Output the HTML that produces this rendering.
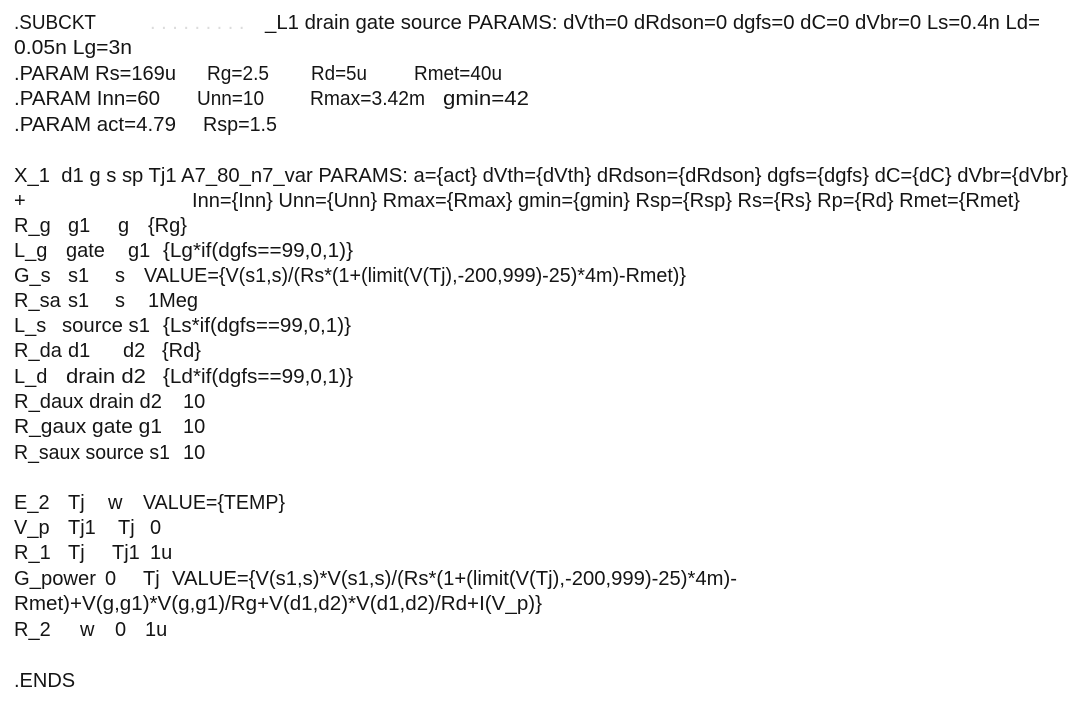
<!DOCTYPE html>
<html><head><meta charset="utf-8"><style>
html,body{margin:0;padding:0;background:#fff;}
svg{display:block}
text{font-family:"Liberation Sans",sans-serif;font-size:20px;fill:#141414;white-space:pre}
</style></head><body>
<svg width="1080" height="719" viewBox="0 0 1080 719" xmlns="http://www.w3.org/2000/svg">
<rect width="1080" height="719" fill="#fff"/>
<text x="14" y="29" textLength="82" lengthAdjust="spacingAndGlyphs">.SUBCKT</text>
<text x="150" y="29" style="fill:#dcdcdc">. . . . . . . . .</text>
<text x="265" y="29" textLength="775" lengthAdjust="spacingAndGlyphs">_L1 drain gate source PARAMS: dVth=0 dRdson=0 dgfs=0 dC=0 dVbr=0 Ls=0.4n Ld=</text>
<text x="14" y="54" textLength="118" lengthAdjust="spacingAndGlyphs">0.05n Lg=3n</text>
<text x="14" y="80" textLength="162" lengthAdjust="spacingAndGlyphs">.PARAM Rs=169u</text>
<text x="207" y="80" textLength="62" lengthAdjust="spacingAndGlyphs">Rg=2.5</text>
<text x="311" y="80" textLength="56" lengthAdjust="spacingAndGlyphs">Rd=5u</text>
<text x="414" y="80" textLength="88" lengthAdjust="spacingAndGlyphs">Rmet=40u</text>
<text x="14" y="105" textLength="146" lengthAdjust="spacingAndGlyphs">.PARAM Inn=60</text>
<text x="197" y="105" textLength="67" lengthAdjust="spacingAndGlyphs">Unn=10</text>
<text x="310" y="105" textLength="115" lengthAdjust="spacingAndGlyphs">Rmax=3.42m</text>
<text x="443" y="105" textLength="86" lengthAdjust="spacingAndGlyphs">gmin=42</text>
<text x="14" y="131" textLength="162" lengthAdjust="spacingAndGlyphs">.PARAM act=4.79</text>
<text x="203" y="131" textLength="74" lengthAdjust="spacingAndGlyphs">Rsp=1.5</text>
<text x="14" y="182" textLength="1054" lengthAdjust="spacingAndGlyphs">X_1  d1 g s sp Tj1 A7_80_n7_var PARAMS: a={act} dVth={dVth} dRdson={dRdson} dgfs={dgfs} dC={dC} dVbr={dVbr}</text>
<text x="14" y="207">+</text>
<text x="192" y="207" textLength="828" lengthAdjust="spacingAndGlyphs">Inn={Inn} Unn={Unn} Rmax={Rmax} gmin={gmin} Rsp={Rsp} Rs={Rs} Rp={Rd} Rmet={Rmet}</text>
<text x="14" y="232">R_g</text><text x="68" y="232">g1</text><text x="118" y="232">g</text><text x="148" y="232">{Rg}</text>
<text x="14" y="257">L_g</text><text x="66" y="257">gate</text><text x="128" y="257">g1</text><text x="163" y="257" textLength="190" lengthAdjust="spacingAndGlyphs">{Lg*if(dgfs==99,0,1)}</text>
<text x="14" y="282">G_s</text><text x="68" y="282">s1</text><text x="115" y="282">s</text><text x="144" y="282" textLength="542" lengthAdjust="spacingAndGlyphs">VALUE={V(s1,s)/(Rs*(1+(limit(V(Tj),-200,999)-25)*4m)-Rmet)}</text>
<text x="14" y="307">R_sa</text><text x="68" y="307">s1</text><text x="115" y="307">s</text><text x="148" y="307">1Meg</text>
<text x="14" y="332">L_s</text><text x="62" y="332" textLength="88" lengthAdjust="spacingAndGlyphs">source s1</text><text x="163" y="332" textLength="188" lengthAdjust="spacingAndGlyphs">{Ls*if(dgfs==99,0,1)}</text>
<text x="14" y="357">R_da</text><text x="68" y="357">d1</text><text x="123" y="357">d2</text><text x="162" y="357">{Rd}</text>
<text x="14" y="383">L_d</text><text x="66" y="383" textLength="80" lengthAdjust="spacingAndGlyphs">drain d2</text><text x="163" y="383" textLength="190" lengthAdjust="spacingAndGlyphs">{Ld*if(dgfs==99,0,1)}</text>
<text x="14" y="408" textLength="148" lengthAdjust="spacingAndGlyphs">R_daux drain d2</text><text x="183" y="408">10</text>
<text x="14" y="433" textLength="148" lengthAdjust="spacingAndGlyphs">R_gaux gate g1</text><text x="183" y="433">10</text>
<text x="14" y="459" textLength="156" lengthAdjust="spacingAndGlyphs">R_saux source s1</text><text x="183" y="459">10</text>
<text x="14" y="509">E_2</text><text x="68" y="509">Tj</text><text x="108" y="509">w</text><text x="143" y="509" textLength="142" lengthAdjust="spacingAndGlyphs">VALUE={TEMP}</text>
<text x="14" y="534">V_p</text><text x="68" y="534">Tj1</text><text x="118" y="534">Tj</text><text x="150" y="534">0</text>
<text x="14" y="559">R_1</text><text x="68" y="559">Tj</text><text x="112" y="559">Tj1</text><text x="150" y="559">1u</text>
<text x="14" y="585" textLength="82" lengthAdjust="spacingAndGlyphs">G_power</text><text x="105" y="585">0</text><text x="143" y="585">Tj</text><text x="172" y="585" textLength="565" lengthAdjust="spacingAndGlyphs">VALUE={V(s1,s)*V(s1,s)/(Rs*(1+(limit(V(Tj),-200,999)-25)*4m)-</text>
<text x="14" y="610" textLength="528" lengthAdjust="spacingAndGlyphs">Rmet)+V(g,g1)*V(g,g1)/Rg+V(d1,d2)*V(d1,d2)/Rd+I(V_p)}</text>
<text x="14" y="636">R_2</text><text x="80" y="636">w</text><text x="115" y="636">0</text><text x="145" y="636">1u</text>
<text x="14" y="687">.ENDS</text>
</svg>
</body></html>
